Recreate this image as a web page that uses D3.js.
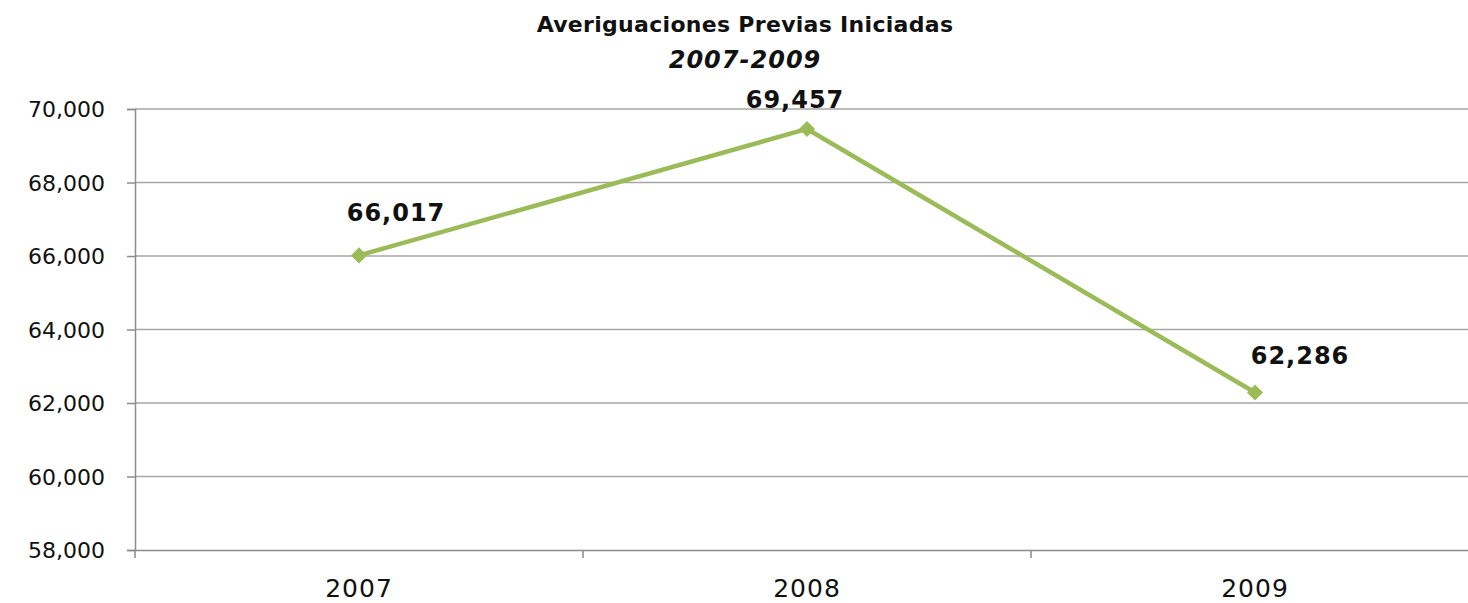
<!DOCTYPE html>
<html>
<head>
<meta charset="utf-8">
<script src="https://cdn.jsdelivr.net/npm/d3@7"></script>
<style>
  body { margin: 0; background: #fff; }
  svg text { font-family: "DejaVu Sans", sans-serif; fill: #111; }
</style>
</head>
<body>
<svg class="chart" width="1468" height="603"></svg>
<script>
// data
let years = ['2007', '2008', '2009'];
let values = [66017, 69457, 62286];
let yTicks = [58000, 60000, 62000, 64000, 66000, 68000, 70000];
// label nudges relative to each point
let labelDx = [37, -12, 45];
let labelDy = [-34, -21, -28];

let svg = d3.select('.chart');
let plotLeft = 135, plotRight = 1479, plotTop = 109, plotBottom = 550;

let x = d3.scaleBand().domain(years).range([plotLeft, plotRight]);
let y = d3.scaleLinear().domain([58000, 70000]).range([plotBottom, plotTop]);
let fmt = d3.format(',');

// title
svg.append('text')
    .attr('x', 745).attr('y', 32)
    .attr('text-anchor', 'middle')
    .style('font-size', '22px').style('font-weight', 'bold').style('letter-spacing', '0.3px')
    .text('Averiguaciones Previas Iniciadas');
svg.append('text')
    .attr('x', 745).attr('y', 68)
    .attr('text-anchor', 'middle')
    .style('font-size', '24px').style('font-weight', 'bold').style('font-style', 'italic')
    .style('letter-spacing', '1px')
    .text('2007-2009');

// gridlines
svg.append('g').selectAll('line')
    .data(yTicks.slice(1))
    .enter().append('line')
    .attr('x1', plotLeft).attr('x2', plotRight)
    .attr('y1', d => y(d)).attr('y2', d => y(d))
    .attr('stroke', '#a6a6a6').attr('stroke-width', 1.5);

// y axis
let yAxis = svg.append('g')
    .attr('transform', 'translate(' + plotLeft + ',0)')
    .call(d3.axisLeft(y).tickValues(yTicks).tickFormat(fmt).tickSize(8).tickPadding(22));
yAxis.select('.domain').attr('stroke', '#8c8c8c').attr('stroke-width', 1.5);
yAxis.selectAll('.tick line').attr('stroke', '#8c8c8c').attr('stroke-width', 1.5);
yAxis.selectAll('.tick text')
    .style('font-size', '22px').attr('fill', '#111').attr('dy', '0.36em');

// x axis
let xAxis = svg.append('g')
    .attr('transform', 'translate(0,' + plotBottom + ')')
    .call(d3.axisBottom(x).tickSize(0).tickPadding(29));
xAxis.select('.domain').attr('stroke', '#8c8c8c').attr('stroke-width', 1.5);
xAxis.selectAll('.tick text').style('font-size', '25px').style('letter-spacing', '1px').attr('fill', '#111');
// tick marks at band edges
xAxis.selectAll('.edge')
    .data(years.concat(['end']))
    .enter().append('line')
    .attr('class', 'edge')
    .attr('x1', (d, i) => plotLeft + i * x.step())
    .attr('x2', (d, i) => plotLeft + i * x.step())
    .attr('y1', 0).attr('y2', 8)
    .attr('stroke', '#8c8c8c').attr('stroke-width', 1.5);

// line
let pts = years.map((d, i) => [x(d) + x.bandwidth() / 2, y(values[i])]);
svg.append('path')
    .attr('d', d3.line()(pts))
    .attr('fill', 'none')
    .attr('stroke', '#9bbb59')
    .attr('stroke-width', 4.5);

// markers
svg.append('g').selectAll('path')
    .data(pts)
    .enter().append('path')
    .attr('d', d3.symbol().type(d3.symbolSquare).size(130))
    .attr('transform', d => 'translate(' + d[0] + ',' + d[1] + ') rotate(45)')
    .attr('fill', '#9bbb59');

// data labels
svg.append('g').selectAll('text')
    .data(pts)
    .enter().append('text')
    .attr('x', (d, i) => d[0] + labelDx[i])
    .attr('y', (d, i) => d[1] + labelDy[i])
    .attr('text-anchor', 'middle')
    .style('font-size', '24px').style('font-weight', 'bold').style('letter-spacing', '1px')
    .text((d, i) => fmt(values[i]));
</script>
</body>
</html>
